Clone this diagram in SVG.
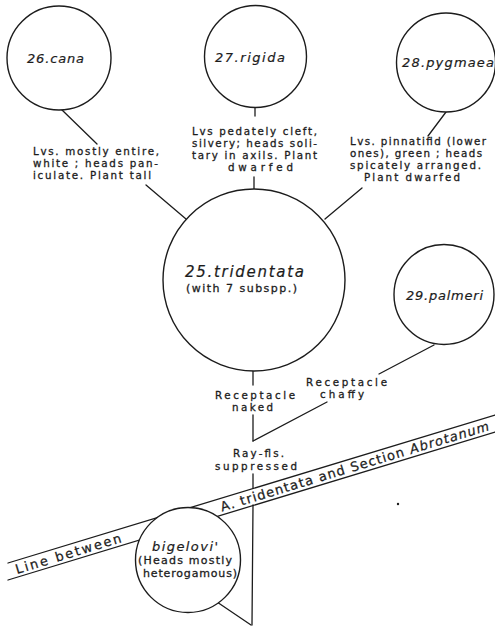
<svg xmlns="http://www.w3.org/2000/svg" width="495" height="635" viewBox="0 0 495 635">
  <style>
    .ln { stroke: #1c1c1c; stroke-width: 1.3; fill: none; stroke-linecap: round; }
    .node circle { fill: #ffffff; stroke: #1c1c1c; stroke-width: 1.4; }
    .t { font-family: "DejaVu Sans", "Liberation Sans", sans-serif; font-size: 10.3px; fill: #1c1c1c; stroke: #1c1c1c; stroke-width: 0.3; }
    .nm { font-family: "DejaVu Sans", "Liberation Sans", sans-serif; font-style: italic; font-size: 13px; fill: #1c1c1c; stroke: #1c1c1c; stroke-width: 0.2; }
    .big { font-size: 15px; }
    .band { font-family: "DejaVu Sans", "Liberation Sans", sans-serif; font-size: 13px; fill: #1c1c1c; stroke: #1c1c1c; stroke-width: 0.25; }
  </style>
  <rect width="495" height="635" fill="#ffffff"/>

  <!-- connectors between species -->
  <g id="connectors" class="ln">
    <line x1="61" y1="109" x2="97" y2="144"/>
    <line x1="146" y1="185" x2="186" y2="219"/>
    <line x1="255" y1="107" x2="255" y2="116"/>
    <line x1="254" y1="177" x2="254" y2="189"/>
    <line x1="446" y1="112" x2="428" y2="136"/>
    <line x1="362" y1="188" x2="325" y2="219"/>
    <line x1="434" y1="345" x2="379" y2="374"/>
    <line x1="253" y1="371" x2="253" y2="385"/>
    <line x1="253" y1="415" x2="253" y2="441"/>
    <line x1="327" y1="402" x2="253" y2="441"/>
    <line x1="253" y1="474" x2="253" y2="488"/>
    <line x1="253" y1="505" x2="252" y2="625"/>
    <line x1="217" y1="602" x2="251" y2="625"/>
  </g>

  <!-- character labels on the branches -->
  <g id="labels" class="t">
    <text>
      <tspan x="33" y="155" textLength="126" lengthAdjust="spacing">Lvs. mostly entire,</tspan>
      <tspan x="33" y="167" textLength="125" lengthAdjust="spacing">white ; heads pan-</tspan>
      <tspan x="33" y="179" textLength="118" lengthAdjust="spacing">iculate. Plant tall</tspan>
    </text>
    <text>
      <tspan x="192" y="134.5" textLength="125" lengthAdjust="spacing">Lvs pedately cleft,</tspan>
      <tspan x="192" y="146.5" textLength="125" lengthAdjust="spacing">silvery; heads soli-</tspan>
      <tspan x="192" y="158.5" textLength="125" lengthAdjust="spacing">tary in axils. Plant</tspan>
      <tspan x="228" y="170.5" textLength="65" lengthAdjust="spacing">dwarfed</tspan>
    </text>
    <text>
      <tspan x="350" y="145" textLength="136" lengthAdjust="spacing">Lvs. pinnatifid (lower</tspan>
      <tspan x="350" y="157" textLength="132" lengthAdjust="spacing">ones), green ; heads</tspan>
      <tspan x="350" y="169" textLength="131" lengthAdjust="spacing">spicately arranged.</tspan>
      <tspan x="364" y="181" textLength="96" lengthAdjust="spacing">Plant dwarfed</tspan>
    </text>
    <text>
      <tspan x="215" y="399" textLength="80" lengthAdjust="spacing">Receptacle</tspan>
      <tspan x="232" y="411" textLength="41" lengthAdjust="spacing">naked</tspan>
    </text>
    <text>
      <tspan x="306" y="386" textLength="81" lengthAdjust="spacing">Receptacle</tspan>
      <tspan x="320" y="398" textLength="44" lengthAdjust="spacing">chaffy</tspan>
    </text>
    <text>
      <tspan x="233" y="457" textLength="51" lengthAdjust="spacing">Ray-fls.</tspan>
      <tspan x="215" y="470" textLength="82" lengthAdjust="spacing">suppressed</tspan>
    </text>
  </g>

  <!-- dividing band -->
  <g id="boundary">
    <line class="ln" x1="8" y1="563" x2="495" y2="415"/>
    <line class="ln" x1="8" y1="580" x2="495" y2="432"/>
    <text class="band" transform="translate(17,574) rotate(-16.9)" textLength="110" lengthAdjust="spacing">Line between</text>
    <text class="band" transform="translate(222,511.5) rotate(-16.9)" textLength="280" lengthAdjust="spacing">A. tridentata and Section <tspan font-style="italic">Abrotanum</tspan></text>
  </g>

  <g id="n26" class="node">
    <circle cx="59" cy="58" r="52"/>
    <text class="nm" x="27" y="63" textLength="57" lengthAdjust="spacing">26.cana</text>
  </g>
  <g id="n27" class="node">
    <circle cx="255.5" cy="56.5" r="51"/>
    <text class="nm" x="215" y="62" textLength="70" lengthAdjust="spacing">27.rigida</text>
  </g>
  <g id="n28" class="node">
    <circle cx="446" cy="62.5" r="49.5"/>
    <text class="nm" x="402" y="67" textLength="92" lengthAdjust="spacing">28.pygmaea</text>
  </g>
  <g id="n25" class="node">
    <circle cx="254" cy="280" r="91"/>
    <text class="t" x="185" y="277">
      <tspan class="nm big" textLength="119" lengthAdjust="spacing">25.tridentata</tspan>
      <tspan x="186" y="292" font-size="11px" textLength="111" lengthAdjust="spacing">(with 7 subspp.)</tspan>
    </text>
  </g>
  <g id="n29" class="node">
    <circle cx="444" cy="294.5" r="50"/>
    <text class="nm" x="406" y="300" textLength="77" lengthAdjust="spacing">29.palmeri</text>
  </g>
  <g id="bigelovi" class="node">
    <circle cx="188" cy="560" r="52.5"/>
    <text class="t" x="152" y="551">
      <tspan class="nm" font-size="12px" textLength="66" lengthAdjust="spacing">bigelovi'</tspan>
      <tspan x="138" y="564" font-size="11px" textLength="94" lengthAdjust="spacing">(Heads mostly</tspan>
      <tspan x="143" y="577" font-size="11px" textLength="94" lengthAdjust="spacing">heterogamous)</tspan>
    </text>
  </g>

  <circle cx="398" cy="504" r="1.2" fill="#1c1c1c"/>
</svg>
